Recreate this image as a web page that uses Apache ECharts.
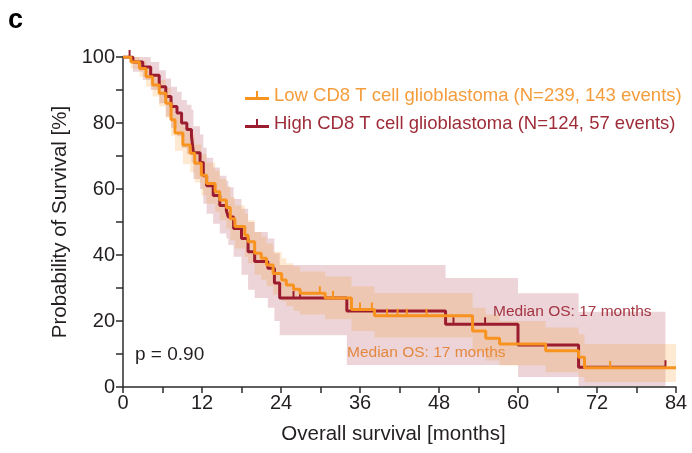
<!DOCTYPE html>
<html><head><meta charset="utf-8">
<script src="https://cdn.jsdelivr.net/npm/echarts@6/dist/echarts.min.js"></script>
<style>html,body{margin:0;padding:0;background:#fff}#c{width:692px;height:453px}</style>
</head><body><div id="c"></div>
<script>
// ---- data (months, survival %) ----
const xTicks = [0, 12, 24, 36, 48, 60, 72, 84];
const yTicks = [0, 20, 40, 60, 80, 100];

const lowName = 'Low CD8 T cell glioblastoma (N=239, 143 events)';
const lowTimes = [0, 1.2, 2.5, 3.5, 4.5, 5.5, 6.5, 7.3, 7.9, 9.1, 10.2, 10.9, 11.9, 12.7, 14, 14.7, 15.7, 16.3, 17, 18.5, 19, 20, 21, 21.8, 22.8, 24.1, 24.8, 25.9, 26.9, 30.7, 34.7, 38.2, 53.1, 55.1, 57.2, 64.2, 69.2, 70.1];
const lowSurv  = [100, 98.5, 96.5, 94, 91.5, 89, 86, 81, 77, 73.3, 70.8, 67.8, 64.2, 61.7, 59.2, 56.7, 54.4, 51, 48.6, 46, 44, 40.5, 39, 37, 34.4, 32.4, 30.9, 29.6, 28.4, 27, 23.5, 21.6, 17, 14.8, 13, 11, 9, 5.8];
const lowLower = [100, 96.5, 94, 91, 88, 85, 81.5, 76, 71.5, 67.5, 65, 62, 58, 55.5, 53, 50.5, 48, 44.5, 42, 39.5, 37.5, 34, 32.5, 30.5, 28, 26, 24.5, 23, 22, 20.5, 17, 15, 10.5, 8, 6.5, 4.5, 3, 1.5];
const lowUpper = [100, 100, 99, 97, 95, 93, 90.5, 86, 82.5, 79, 76.5, 73.5, 70.5, 68, 65.5, 63, 60.8, 57.5, 55, 52.5, 50.5, 47, 45.5, 43.5, 41, 39, 37.5, 36.5, 35, 33.5, 30.5, 28.5, 24, 22, 20, 18, 16, 13];
const lowEnd = 84;
const lowCensor = [29.9, 31.9, 36, 37.8, 40.1, 41.7, 43.1, 46.1, 74];

const highName = 'High CD8 T cell glioblastoma (N=124, 57 events)';
const highTimes = [0, 1.5, 3, 4.2, 5.5, 6.5, 7.3, 8.2, 8.9, 9.7, 10.4, 10.7, 11.7, 12.2, 12.7, 13.7, 14.7, 15.7, 16, 16.8, 18, 19, 20, 22, 23, 23.8, 34, 49, 60, 69.2];
const highSurv  = [100, 98.5, 97, 94.5, 91, 88, 85, 83, 80, 78, 76, 71, 68, 64, 61, 58, 55, 53.5, 51.5, 48, 45, 41, 38, 36, 31.5, 27, 23, 19, 12.7, 6];
const highLower = [100, 95.5, 93, 90, 86, 82, 78.5, 76, 72.5, 70.5, 68, 63, 60, 55.5, 52.5, 49.5, 46.5, 45, 43, 39.5, 34, 29.5, 27, 24, 20, 15.7, 6.7, 6.7, 3, 0.3];
const highUpper = [100, 100, 100, 98.5, 96, 93.5, 91, 89.5, 87, 85.5, 84, 79, 76.5, 72.5, 69.5, 66.5, 64, 62.5, 60.5, 57, 54, 50, 47, 45, 40.5, 37, 37, 33, 28.4, 22.8];
const highEnd = 82.4;
const highCensor = [1, 25.9, 26.9, 50.2, 55, 82.4];

// ---- colours ----
const orange = '#f7931e', red = '#9b1c2e';
const orangeText = '#f59d3d', redText = '#9e2c38';
const font = '"Liberation Sans", Arial, sans-serif';

function curve(times, surv, end) {
  const d = times.map((t, i) => [t, surv[i]]);
  d.push([end, surv[surv.length - 1]]);
  return d;
}
function survAt(times, surv, t) {
  let s = surv[0];
  for (let i = 0; i < times.length; i++) if (times[i] <= t) s = surv[i];
  return s;
}
function bandSeries(times, lo, hi, end, fill) {
  return {
    type: 'custom', coordinateSystem: 'cartesian2d', silent: true, z: 1,
    data: [[0, 0]],
    renderItem: function (params, api) {
      const top = [], bot = [];
      for (let i = 0; i < times.length; i++) {
        const t1 = i + 1 < times.length ? times[i + 1] : end;
        top.push(api.coord([times[i], hi[i]]), api.coord([t1, hi[i]]));
        bot.push(api.coord([times[i], lo[i]]), api.coord([t1, lo[i]]));
      }
      const pts = top.concat(bot.reverse());
      return { type: 'polygon', shape: { points: pts }, style: { fill: fill, stroke: null } };
    }
  };
}
function censorSeries(times, surv, cens, color, z) {
  return {
    type: 'custom', coordinateSystem: 'cartesian2d', silent: true, z: z,
    data: cens.map(t => [t, survAt(times, surv, t)]),
    renderItem: function (params, api) {
      const p = api.coord([api.value(0), api.value(1)]);
      return { type: 'line', shape: { x1: p[0], y1: p[1], x2: p[0], y2: p[1] - 7 },
               style: { stroke: color, lineWidth: 2 } };
    }
  };
}

const chart = echarts.init(document.getElementById('c'), null, { renderer: 'canvas' });
const legendIcon = 'path://M0,7 L24,7 L24,10 L0,10 Z M11,1 L13,1 L13,7 L11,7 Z';

chart.setOption({
  animation: false,
  backgroundColor: '#fff',
  grid: { left: 123, right: 16, top: 57, bottom: 66, containLabel: false },
  xAxis: {
    type: 'value', min: 0, max: 84, interval: 12,
    axisLine: { lineStyle: { color: '#2b2b2b', width: 1.5 } },
    axisTick: { show: true, length: 6, lineStyle: { color: '#2b2b2b', width: 1.5 } },
    minorTick: { show: true, splitNumber: 2, length: 6, lineStyle: { color: '#2b2b2b', width: 1.5 } },
    splitLine: { show: false },
    axisLabel: { color: '#231f20', fontSize: 20, fontFamily: font, margin: 6,
      formatter: v => xTicks.includes(v) ? String(v) : '' },
    name: 'Overall survival [months]', nameLocation: 'middle', nameGap: 37,
    nameTextStyle: { color: '#231f20', fontSize: 20.5, fontFamily: font, padding: [0, 12, 0, 0] }
  },
  yAxis: {
    type: 'value', min: 0, max: 100, interval: 20,
    axisLine: { show: true, lineStyle: { color: '#2b2b2b', width: 1.5 } },
    axisTick: { show: true, length: 7, lineStyle: { color: '#2b2b2b', width: 1.5 } },
    minorTick: { show: true, splitNumber: 2, length: 7, lineStyle: { color: '#2b2b2b', width: 1.5 } },
    splitLine: { show: false },
    axisLabel: { color: '#231f20', fontSize: 20, fontFamily: font, margin: 8,
      formatter: v => yTicks.includes(v) ? String(v) : '' },
    name: 'Probability of Survival [%]', nameLocation: 'middle', nameGap: 49,
    nameTextStyle: { color: '#231f20', fontSize: 20.5, fontFamily: font }
  },
  legend: {
    orient: 'vertical', left: 240, top: 81, itemWidth: 24, itemHeight: 10, itemGap: 9,
    selectedMode: false,
    textStyle: { fontSize: 18.5, fontFamily: font },
    data: [
      { name: lowName, icon: legendIcon, textStyle: { color: orangeText } },
      { name: highName, icon: legendIcon, textStyle: { color: redText } }
    ]
  },
  graphic: [
    { type: 'text', left: 8, top: 7, style: { text: 'c', fontSize: 27, fontWeight: 'bold', fontFamily: font, fill: '#000' } },
    { type: 'text', left: 135, top: 345, style: { text: 'p = 0.90', fontSize: 19, fontFamily: font, fill: '#231f20' } },
    { type: 'text', left: 493, top: 304, style: { text: 'Median OS: 17 months', fontSize: 15.5, fontFamily: font, fill: '#a63844' } },
    { type: 'text', left: 347, top: 345, style: { text: 'Median OS: 17 months', fontSize: 15.5, fontFamily: font, fill: '#f5a040' } }
  ],
  series: [
    bandSeries(highTimes, highLower, highUpper, highEnd, 'rgba(160,40,60,0.2)'),
    bandSeries(lowTimes, lowLower, lowUpper, lowEnd, 'rgba(248,150,30,0.2)'),
    { name: highName, type: 'line', step: 'end', data: curve(highTimes, highSurv, highEnd),
      showSymbol: false, symbol: 'none', z: 3, color: red, lineStyle: { color: red, width: 3 } },
    censorSeries(highTimes, highSurv, highCensor, red, 3),
    { name: lowName, type: 'line', step: 'end', data: curve(lowTimes, lowSurv, lowEnd),
      showSymbol: false, symbol: 'none', z: 4, color: orange, lineStyle: { color: orange, width: 3 } },
    censorSeries(lowTimes, lowSurv, lowCensor, orange, 4)
  ]
});
</script>
</body></html>
